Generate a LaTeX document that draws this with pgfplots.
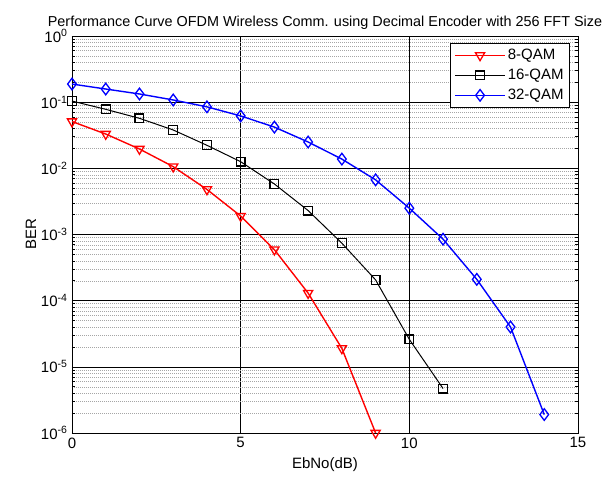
\documentclass[border=0pt]{standalone}
\usepackage{fontspec}
\setmainfont{Liberation Sans}
\usepackage{pgfplots}
\pgfplotsset{compat=1.18}
\begin{document}
\begin{tikzpicture}
\begin{semilogyaxis}[
  scale only axis, width=506pt, height=397pt,
  xmin=0, xmax=15, ymin=1e-6, ymax=1,
  xtick={0,5,10,15},
  ytick={1e-6,1e-5,1e-4,1e-3,1e-2,1e-1,1},
  yticklabels={10\textsuperscript{-6},10\textsuperscript{-5},10\textsuperscript{-4},10\textsuperscript{-3},10\textsuperscript{-2},10\textsuperscript{-1},10\textsuperscript{0}},
  minor ytick={2e-6,3e-6,4e-6,5e-6,6e-6,7e-6,8e-6,9e-6,
               2e-5,3e-5,4e-5,5e-5,6e-5,7e-5,8e-5,9e-5,
               2e-4,3e-4,4e-4,5e-4,6e-4,7e-4,8e-4,9e-4,
               2e-3,3e-3,4e-3,5e-3,6e-3,7e-3,8e-3,9e-3,
               2e-2,3e-2,4e-2,5e-2,6e-2,7e-2,8e-2,9e-2,
               2e-1,3e-1,4e-1,5e-1,6e-1,7e-1,8e-1,9e-1},
  /pgf/number format/assume math mode=true,
  tick label style={font=\fontsize{15}{17}\selectfont},
  xticklabel style={yshift=-1pt},
  yticklabel style={xshift=-1pt},
  label style={font=\fontsize{15}{17}\selectfont},
  xlabel style={yshift=-3pt},
  ylabel style={yshift=-2pt},
  title style={font=\fontsize{14.4}{17}\selectfont, yshift=-3pt},
  title={Performance Curve OFDM Wireless Comm. using Decimal Encoder with 256 FFT Size},
  xlabel={EbNo(dB)}, ylabel={BER},
  tick align=inside,
  major tick length=5pt, minor tick length=3pt,
  axis line style={line width=0.8pt},
  every tick/.style={black, line width=0.6pt},
  grid=both,
  major grid style={black, line width=0.5pt},
  minor grid style={gray!70, line width=0.5pt, dash pattern=on 1pt off 1pt},
  legend style={at={(1,1)}, anchor=north east, xshift=-8pt, yshift=-7pt,
    font=\fontsize{15}{17}\selectfont, draw=black, line width=0.8pt,
    cells={anchor=west}, inner xsep=4pt, inner ysep=4pt, row sep=4pt},
  legend image code/.code={\draw[mark repeat=2,mark phase=2] plot coordinates {(0pt,0pt) (25pt,0pt) (50pt,0pt)};},
]
\addplot[red, line width=1.4pt, mark=triangle, mark options={rotate=180, solid, line width=1.3pt}, mark size=5.3pt]
  coordinates {(0,0.051) (1,0.033) (2,0.0196) (3,0.0106) (4,0.0048) (5,0.0019) (6,5.9e-4) (7,1.3e-4) (8,1.9e-5) (9,1.0e-6)};
\addlegendentry{8-QAM}
\addplot[black, line width=1.0pt, mark=square, mark options={solid, line width=1.2pt}, mark size=4.4pt]
  coordinates {(0,0.104) (1,0.078) (2,0.057) (3,0.038) (4,0.0223) (5,0.0126) (6,0.0058) (7,0.0023) (8,7.4e-4) (9,2.06e-4) (10,2.6e-5) (11,4.7e-6)};
\addlegendentry{16-QAM}
\addplot[blue, line width=1.4pt, mark=diamond, mark options={solid, line width=1.3pt}, mark size=5.8pt]
  coordinates {(0,0.188) (1,0.158) (2,0.133) (3,0.108) (4,0.085) (5,0.062) (6,0.042) (7,0.025) (8,0.0138) (9,0.0067) (10,0.0025) (11,8.5e-4) (12,2.1e-4) (13,4.0e-5) (14,1.9e-6)};
\addlegendentry{32-QAM}
\end{semilogyaxis}
\pgfresetboundingbox
\path[use as bounding box] ([shift={(-72pt,-44pt)}]current axis.south west) rectangle ([shift={(38pt,36pt)}]current axis.north east);
\end{tikzpicture}
\end{document}
